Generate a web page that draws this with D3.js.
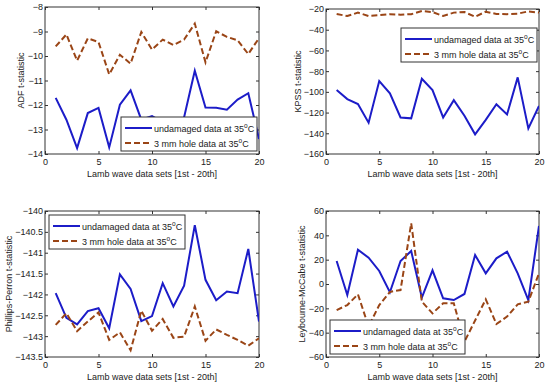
<!DOCTYPE html>
<html>
<head>
<meta charset="utf-8">
<script src="https://cdn.jsdelivr.net/npm/d3@7"></script>
<style>
  body { margin: 0; background: #fff; }
  svg text { font-family: "Liberation Sans", Arial, sans-serif; fill: #222; }
</style>
</head>
<body>
<div id="chart"></div>
<script>
// data sets 1..20
const sets = d3.range(1, 21);

const adfUndamaged = [-11.71, -12.6, -13.76, -12.33, -12.12, -13.73, -11.99, -11.40, -12.6, -12.45,
                      -12.7, -12.9, -12.5, -10.60, -12.10, -12.11, -12.19, -11.78, -11.52, -13.39];
const adfHole = [-9.61, -9.12, -10.19, -9.28, -9.43, -10.75, -9.95, -10.31, -9.02, -9.74,
                 -9.33, -9.55, -9.33, -8.68, -10.26, -8.99, -9.22, -9.36, -9.92, -9.27];

const kpssUndamaged = [-98.3, -107, -111.8, -129.8, -89.6, -101.5, -124.7, -125.6, -87.3, -98.3,
                       -124.7, -108, -123, -141, -127, -112, -121.8, -86, -135.3, -113.7];
const kpssHole = [-24.8, -26.8, -23.5, -26.8, -26, -25, -25.5, -25, -22, -23,
                  -26.8, -23.5, -23, -27.4, -22.6, -24.8, -25, -24.5, -22.3, -23.5];

const ppUndamaged = [-141.97, -142.56, -142.72, -142.40, -142.33, -142.81, -141.52, -141.87, -142.64, -142.52,
                     -141.73, -142.29, -141.79, -140.34, -141.65, -142.14, -141.93, -141.97, -140.91, -142.65];
const ppHole = [-142.73, -142.45, -142.88, -142.65, -142.43, -143.09, -142.91, -143.34, -142.39, -142.87,
                -142.59, -143.04, -143.01, -142.29, -143.11, -142.84, -142.97, -143.09, -143.23, -143.05];

const lmUndamaged = [18.9, -9, 28.2, 21.6, 10.7, -6.8, 18.9, 27.1, -11.2, 11.2,
                     -11.8, -13.2, -8.2, 23.8, 8.8, 21.1, 26.6, 8.8, -13.2, 47.7];
const lmHole = [-21.4, -17.3, -8.5, -35, -17.3, -6.5, -5, 49.9, -14.5, -24.1,
                -15.9, -15.9, -47.4, -30, -12.6, -32.9, -26.8, -16.7, -14.5, 8.8];

const xTicks = [0, 5, 10, 15, 20];
const adfTicks = [-8, -9, -10, -11, -12, -13, -14];
const kpssTicks = [-20, -40, -60, -80, -100, -120, -140, -160];
const ppTicks = [-140, -140.5, -141, -141.5, -142, -142.5, -143, -143.5];
const lmTicks = [60, 40, 20, 0, -20, -40, -60];

const xLabel = "Lamb wave data sets [1st - 20th]";
const seriesNames = ["undamaged data at 35", "3 mm hole data at 35"];

const BLUE = "#1c1cc8";
const BROWN = "#9a4516";
const FONT = "9px";

const W = 550, H = 386;
const svg = d3.select("#chart").append("svg")
    .attr("width", W)
    .attr("height", H);

const panels = [
    {id: "adf", box: [45, 7, 259, 154], yDomain: [-14, -8], yTicks: adfTicks,
     ylabel: "ADF t-statistic", ylx: 21, a: adfUndamaged, b: adfHole,
     legend: [121, 117, 136, 34]},
    {id: "kpss", box: [326, 9, 539, 154], yDomain: [-160, -20], yTicks: kpssTicks,
     ylabel: "KPSS t-statistic", ylx: 298, a: kpssUndamaged, b: kpssHole,
     legend: [401, 28, 136, 34]},
    {id: "pp", box: [45, 211, 259, 357], yDomain: [-143.5, -140], yTicks: ppTicks,
     ylabel: "Phillips-Perron t-statistic", ylx: 9, a: ppUndamaged, b: ppHole,
     legend: [49, 215, 136, 34]},
    {id: "lm", box: [326, 211, 539, 357], yDomain: [-60, 60], yTicks: lmTicks,
     ylabel: "Leybourne-McCabe t-statistic", ylx: 302, a: lmUndamaged, b: lmHole,
     legend: [330, 320, 135, 34]}
];

panels.forEach(function(p) {
    const [x0, y0, x1, y1] = p.box;
    const x = d3.scaleLinear().domain([0, 20]).range([x0, x1]);
    const y = d3.scaleLinear().domain(p.yDomain).range([y1, y0]);
    const g = svg.append("g");

    g.append("clipPath").attr("id", "clip-" + p.id)
        .append("rect")
        .attr("x", x0).attr("y", y0)
        .attr("width", x1 - x0).attr("height", y1 - y0);

    // axes with inward ticks, mirrored on top/right
    const axStyle = function(sel) {
        sel.select(".domain").remove();
        sel.selectAll("line").attr("stroke", "#333");
        sel.selectAll("text").attr("font-size", FONT).attr("fill", "#222");
    };
    g.append("g")
        .attr("transform", "translate(0," + y1 + ")")
        .call(d3.axisBottom(x).tickValues(xTicks).tickSize(-3).tickPadding(5))
        .call(axStyle);
    g.append("g")
        .attr("transform", "translate(0," + y0 + ")")
        .call(d3.axisTop(x).tickValues(xTicks).tickSize(-3).tickFormat(""))
        .call(axStyle);
    g.append("g")
        .attr("transform", "translate(" + x0 + ",0)")
        .call(d3.axisLeft(y).tickValues(p.yTicks).tickSize(-3).tickPadding(2)
            .tickFormat(d3.format("")))
        .call(axStyle);
    g.append("g")
        .attr("transform", "translate(" + x1 + ",0)")
        .call(d3.axisRight(y).tickValues(p.yTicks).tickSize(-3).tickFormat(""))
        .call(axStyle);

    g.append("rect")
        .attr("x", x0).attr("y", y0)
        .attr("width", x1 - x0).attr("height", y1 - y0)
        .attr("fill", "none").attr("stroke", "#333").attr("stroke-width", 1);

    const line = d3.line()
        .x(function(d, i) { return x(sets[i]); })
        .y(function(d) { return y(d); });

    const plot = g.append("g").attr("clip-path", "url(#clip-" + p.id + ")");
    plot.append("path")
        .datum(p.a)
        .attr("d", line)
        .attr("fill", "none")
        .attr("stroke", BLUE)
        .attr("stroke-width", 2);
    plot.append("path")
        .datum(p.b)
        .attr("d", line)
        .attr("fill", "none")
        .attr("stroke", BROWN)
        .attr("stroke-width", 2)
        .attr("stroke-dasharray", "6,3");

    // axis labels
    g.append("text")
        .attr("x", (x0 + x1) / 2)
        .attr("y", y1 + 23)
        .attr("text-anchor", "middle")
        .attr("font-size", FONT)
        .text(xLabel);
    g.append("text")
        .attr("transform", "translate(" + p.ylx + "," + ((y0 + y1) / 2) + ") rotate(-90)")
        .attr("text-anchor", "middle")
        .attr("dominant-baseline", "central")
        .attr("font-size", FONT)
        .text(p.ylabel);

    // legend
    const [lx, ly, lw, lh] = p.legend;
    const lg = g.append("g");
    lg.append("rect")
        .attr("x", lx).attr("y", ly)
        .attr("width", lw).attr("height", lh)
        .attr("fill", "#fff").attr("stroke", "#333");
    const rows = [
        {name: seriesNames[0], color: BLUE, dash: null},
        {name: seriesNames[1], color: BROWN, dash: "6,3"}
    ];
    rows.forEach(function(r, i) {
        const ry = ly + 11 + i * 15;
        lg.append("line")
            .attr("x1", lx + 4).attr("x2", lx + 31)
            .attr("y1", ry).attr("y2", ry)
            .attr("stroke", r.color)
            .attr("stroke-width", 2)
            .attr("stroke-dasharray", r.dash);
        const t = lg.append("text")
            .attr("x", lx + 33)
            .attr("y", ry + 3.5)
            .attr("font-size", FONT);
        t.append("tspan").text(r.name);
        t.append("tspan").attr("font-size", "6.5px").attr("dy", -4).text("o");
        t.append("tspan").attr("dy", 4).text("C");
    });
});
</script>
</body>
</html>
